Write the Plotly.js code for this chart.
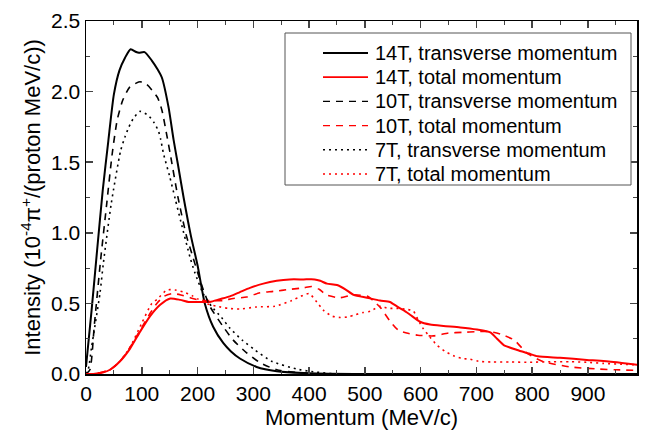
<!DOCTYPE html>
<html>
<head>
<meta charset="utf-8">
<script src="https://cdn.plot.ly/plotly-3.0.1.min.js"></script>
<style>html,body{margin:0;padding:0;background:#fff}#chart{width:645px;height:435px}</style>
</head>
<body>
<div id="chart"></div>
<script>
// 14T, transverse momentum
const x14T = [0,10,20,30,40,50,60,70,80,90,95,105,118,128,136,148,157,165,175,188,200,213,228,246,260,276,306,342,400,500,990];
const y14T = [0.05,0.45,0.88,1.3,1.65,1.98,2.15,2.24,2.30,2.28,2.275,2.28,2.22,2.16,2.1,1.89,1.66,1.48,1.25,0.98,0.77,0.5,0.335,0.22,0.16,0.11,0.05,0.02,0.005,0,0];
// 14T, total momentum
const x14L = [0,13,30,43,61,79,97,115,133,151,169,184,201,222,240,258,276,294,318,342,365,390,410,420,432,450,465,480,504,527,545,557,570,581,599,617,641,671,701,725,737,749,773,794,810,850,898,946,990];
const y14L = [0,0,0.01,0.03,0.09,0.18,0.30,0.41,0.49,0.535,0.525,0.51,0.51,0.51,0.53,0.55,0.58,0.61,0.64,0.66,0.67,0.67,0.67,0.66,0.64,0.63,0.60,0.56,0.54,0.52,0.51,0.48,0.45,0.42,0.37,0.35,0.34,0.33,0.315,0.295,0.25,0.205,0.17,0.145,0.125,0.115,0.10,0.085,0.065];
// 10T, transverse momentum
const x10T = [0,7,15,26,37,47,56,66,78,90,97,109,128,136,144,151,165,180,190,200,210,222,246,264,288,312,342,380,420,990];
const y10T = [0,0.03,0.35,0.8,1.2,1.56,1.80,1.94,2.03,2.06,2.07,2.05,1.96,1.87,1.71,1.56,1.25,0.98,0.85,0.72,0.6,0.48,0.335,0.24,0.15,0.08,0.03,0.01,0,0];
// 10T, total momentum
const x10L = [0,13,43,61,79,97,115,127,140,155,170,187,201,222,245,264,288,312,336,366,390,405,418,431,455,479,505,515,528,546,560,575,595,623,650,675,700,725,745,768,790,818,868,920,950,990];
const y10L = [0,0,0.03,0.09,0.19,0.31,0.43,0.50,0.55,0.57,0.56,0.54,0.525,0.52,0.52,0.535,0.545,0.575,0.585,0.60,0.61,0.62,0.60,0.56,0.54,0.56,0.55,0.52,0.47,0.37,0.31,0.29,0.275,0.27,0.29,0.295,0.30,0.30,0.28,0.24,0.15,0.09,0.05,0.035,0.03,0.025];
// 7T, transverse momentum
const x7T = [0,4,10,25,31,45,62,70,77,85,97,112,122,130,134,139,150,160,170,187,195,210,225,243,258,280,303,333,378,400,450,990];
const y7T = [0,0.03,0.19,0.57,0.78,1.2,1.58,1.68,1.75,1.81,1.86,1.83,1.78,1.72,1.66,1.56,1.40,1.24,1.08,0.82,0.72,0.57,0.48,0.40,0.325,0.24,0.17,0.09,0.035,0.02,0,0];
// 7T, total momentum
const x7L = [0,13,43,61,79,100,118,128,145,160,175,190,201,215,234,255,276,306,339,369,385,400,414,426,441,456,471,483,497,510,527,542,557,572,587,596,605,617,629,644,659,674,689,704,728,761,791,835,868,898,928,958,990];
const y7L = [0,0,0.03,0.09,0.19,0.36,0.50,0.53,0.595,0.595,0.58,0.555,0.53,0.50,0.48,0.465,0.46,0.475,0.48,0.52,0.55,0.57,0.51,0.45,0.41,0.40,0.405,0.42,0.435,0.445,0.48,0.465,0.465,0.46,0.445,0.38,0.32,0.26,0.205,0.16,0.13,0.11,0.105,0.09,0.085,0.085,0.083,0.087,0.087,0.083,0.075,0.07,0.065];

const names = ['14T, transverse momentum','14T, total momentum','10T, transverse momentum','10T, total momentum','7T, transverse momentum','7T, total momentum'];
const xs = [x14T,x14L,x10T,x10L,x7T,x7L];
const ys = [y14T,y14L,y10T,y10L,y7T,y7L];
const colors = ['#000000','#ff0000','#000000','#ff0000','#000000','#ff0000'];
const dashes = ['solid','solid','7px,6px','7px,6px','2px,4px','2px,4px'];
const widths = [2,2,1.6,1.6,1.6,1.6];

const traces = names.map((n,i)=>({
  x: xs[i], y: ys[i], name: n, type:'scatter', mode:'lines', showlegend:false,
  line:{color:colors[i], width:widths[i], dash:dashes[i], shape:'spline', smoothing:0.6}
}));

const fam = 'Arial, Liberation Sans, sans-serif';
const tickFont = {family:fam, size:21, color:'#000'};
const titleFont = {family:fam, size:22, color:'#000'};

// legend drawn in plot-area (paper) coordinates
const plotL = 86, plotR = 637, plotT = 21, plotB = 374;
const px = v => (v - plotL) / (plotR - plotL);
const py = v => (plotB - v) / (plotB - plotT);
const shapes = [{type:'rect', xref:'paper', yref:'paper', x0:px(285), x1:px(631), y0:py(185), y1:py(33),
                 line:{color:'#555', width:1}, fillcolor:'#fff', layer:'above'}];
const annotations = [];
names.forEach((n,i)=>{
  const rowY = 53 + i*24.2;
  shapes.push({type:'line', xref:'paper', yref:'paper', x0:px(323), x1:px(368), y0:py(rowY), y1:py(rowY),
               line:{color:colors[i], width:widths[i]-0.2, dash:dashes[i]}, layer:'above'});
  annotations.push({xref:'paper', yref:'paper', x:px(373), y:py(rowY), xanchor:'left', yanchor:'middle',
                    text:n, showarrow:false, font:{family:fam, size:20, color:'#000'}});
});

const layout = {
  width:645, height:435,
  margin:{l:plotL, r:645-plotR, t:plotT, b:435-plotB},
  paper_bgcolor:'#fff', plot_bgcolor:'#fff',
  font: tickFont,
  showlegend:false,
  shapes: shapes, annotations: annotations,
  xaxis:{range:[0,988], tickmode:'linear', tick0:0, dtick:100, ticks:'inside', ticklen:7, tickwidth:1.5,
         showline:true, linecolor:'#000', linewidth:1.5, mirror:'allticks', showgrid:false, zeroline:false,
         tickfont:tickFont, minor:{dtick:50, ticks:'inside', ticklen:4, tickwidth:1, showgrid:false},
         title:{text:'Momentum (MeV/c)', font:titleFont, standoff:6}},
  yaxis:{range:[0,2.5], tickmode:'linear', tick0:0, dtick:0.5, tickformat:'.1f', ticks:'inside', ticklen:7, tickwidth:1.5,
         showline:true, linecolor:'#000', linewidth:1.5, mirror:'allticks', showgrid:false, zeroline:false,
         tickfont:tickFont, minor:{dtick:0.25, ticks:'inside', ticklen:4, tickwidth:1, showgrid:false},
         title:{text:'Intensity (10<sup>-4</sup>π<sup>+</sup>/(proton MeV/c))', font:titleFont, standoff:4}}
};
Plotly.newPlot('chart', traces, layout, {displayModeBar:false, staticPlot:true});
</script>
</body>
</html>
